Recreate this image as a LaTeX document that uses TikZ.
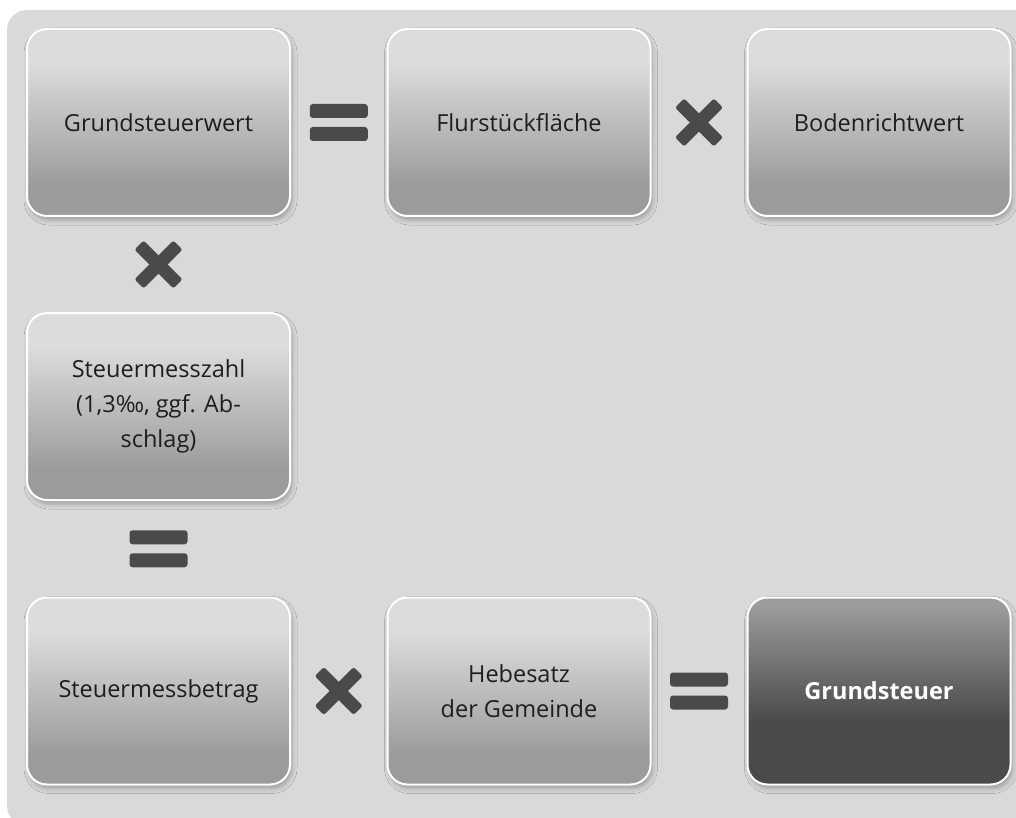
\documentclass[tikz,border=0pt]{standalone}
\usepackage{fontspec}
\setmainfont{Open Sans}
\usetikzlibrary{shadows.blur,calc}
\definecolor{bgc}{HTML}{D9D9D9}
\definecolor{lt}{HTML}{DCDCDC}
\definecolor{dk}{HTML}{9B9B9B}
\definecolor{dlt}{HTML}{9C9C9C}
\definecolor{ddk}{HTML}{4A4A4A}
\definecolor{opc}{HTML}{4A4A4A}
\definecolor{txt}{HTML}{1E1E1E}
\pgfdeclareverticalshading{lightbox}{100bp}{color(0bp)=(dk); color(33bp)=(dk); color(66bp)=(lt); color(100bp)=(lt)}
\pgfdeclareverticalshading{darkbox}{100bp}{color(0bp)=(ddk); color(42bp)=(ddk); color(73bp)=(dlt); color(100bp)=(dlt)}
\begin{document}
\begin{tikzpicture}[x=1pt,y=-1pt,
  box/.style={rectangle, rounded corners=20pt, minimum width=263pt, minimum height=187pt,
    draw=white, line width=2pt, shade, shading=lightbox,
    blur shadow={shadow xshift=2pt, shadow yshift=-4pt, shadow blur radius=5pt, shadow opacity=28},
    align=center, text=txt, font=\fontsize{23.5}{35}\selectfont, inner sep=0pt},
  darkbx/.style={box, shading=darkbox, text=white, font=\fontsize{23.5}{35}\selectfont\bfseries},
  bar/.style={rectangle, fill=opc, rounded corners=3pt, minimum width=58pt, minimum height=14pt, inner sep=0pt},
  arm/.style={rectangle, fill=opc, rounded corners=2.5pt, minimum width=55pt, minimum height=13pt, inner sep=0pt}
]
\useasboundingbox (0,0) rectangle (1016,818);
\begin{scope}
  \clip (0,0) rectangle (1016,818);
  \fill[bgc, rounded corners=20pt] (7,10) rectangle (1040,826);
\end{scope}

\node[box] (gw) at (158.5,122.5) {Grundsteuerwert};
\node[box] (fl) at (519,122.5) {Flurstückfläche};
\node[box] (br) at (879,122.5) {Bodenrichtwert};
\node[box] (sz) at (158.5,406.5) {Steuermesszahl\\(1,3‰, ggf. Ab-\\schlag)};
\node[box] (sb) at (158.5,691) {Steuermessbetrag};
\node[box] (hs) at (519,691) {Hebesatz\\der Gemeinde};
\node[darkbx] (gs) at (879,691) {Grundsteuer};

% equals between Grundsteuerwert and Flurstückfläche
\node[bar, yshift=11.5pt] (eq1a) at ($(gw)!0.5!(fl)$) {};
\node[bar, yshift=-11.5pt] (eq1b) at ($(gw)!0.5!(fl)$) {};
% times between Flurstückfläche and Bodenrichtwert
\node[arm, rotate=45] (x1a) at ($(fl)!0.5!(br)$) {};
\node[arm, rotate=-45] (x1b) at ($(fl)!0.5!(br)$) {};
% times between Grundsteuerwert and Steuermesszahl
\node[arm, rotate=45] (x2a) at ($(gw)!0.5!(sz)$) {};
\node[arm, rotate=-45] (x2b) at ($(gw)!0.5!(sz)$) {};
% equals between Steuermesszahl and Steuermessbetrag
\node[bar, yshift=11.5pt] (eq2a) at ($(sz)!0.5!(sb)$) {};
\node[bar, yshift=-11.5pt] (eq2b) at ($(sz)!0.5!(sb)$) {};
% times between Steuermessbetrag and Hebesatz
\node[arm, rotate=45] (x3a) at ($(sb)!0.5!(hs)$) {};
\node[arm, rotate=-45] (x3b) at ($(sb)!0.5!(hs)$) {};
% equals between Hebesatz and Grundsteuer
\node[bar, yshift=11.5pt] (eq3a) at ($(hs)!0.5!(gs)$) {};
\node[bar, yshift=-11.5pt] (eq3b) at ($(hs)!0.5!(gs)$) {};
\end{tikzpicture}
\end{document}
